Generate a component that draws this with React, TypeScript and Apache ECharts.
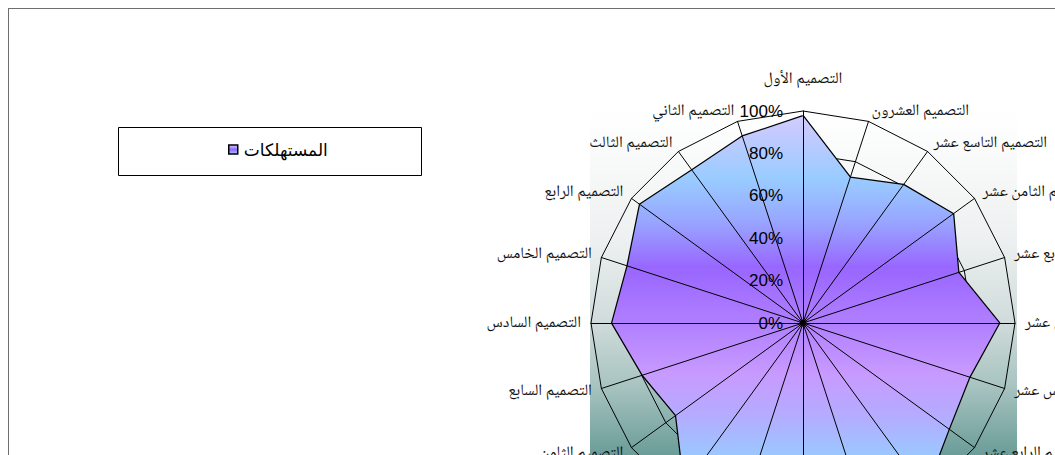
import React, { useEffect, useRef } from "react";
import * as echarts from "echarts";

const categories = [
  "التصميم الأول",
  "التصميم الثاني",
  "التصميم الثالث",
  "التصميم الرابع",
  "التصميم الخامس",
  "التصميم السادس",
  "التصميم السابع",
  "التصميم الثامن",
  "التصميم التاسع",
  "التصميم العاشر",
  "التصميم الحادي عشر",
  "التصميم الثاني عشر",
  "التصميم الثالث عشر",
  "التصميم الرابع عشر",
  "التصميم الخامس عشر",
  "التصميم السادس عشر",
  "التصميم السابع عشر",
  "التصميم الثامن عشر",
  "التصميم التاسع عشر",
  "التصميم العشرون",
];

const seriesName = "المستهلكات";
const seriesValues = [97.5, 92.5, 89, 95, 87, 90, 79.5, 74, 95, 88, 85, 90, 98, 85, 82.5, 92.5, 77, 87.5, 80.5, 72];
const axisMax = 100;
const tickSplits = 5;

const CX = 794;
const CY = 314;
const R = 212;

export default function App() {
  const ref = useRef<HTMLDivElement>(null);

  useEffect(() => {
    if (!ref.current) return;
    const chart = echarts.init(ref.current, null, { renderer: "svg" });

    const indicators0 = categories.map((name) => ({ name, min: 0, max: axisMax }));
    const indicators1 = categories.map((name, i) => ({
      name,
      min: 0,
      max: axisMax,
      axisLabel: { show: i === 0 },
    }));

    const fillGradient = new echarts.graphic.LinearGradient(
      0, CY - R, 0, CY + R,
      [
        { offset: 0.0, color: "#d4d0ff" },
        { offset: 0.04, color: "#c8caff" },
        { offset: 0.16, color: "#99ccff" },
        { offset: 0.26, color: "#98a6ff" },
        { offset: 0.37, color: "#9966ff" },
        { offset: 0.5, color: "#b07fff" },
        { offset: 0.62, color: "#c89aff" },
        { offset: 0.72, color: "#b4acff" },
        { offset: 0.82, color: "#99caff" },
        { offset: 1, color: "#99ccff" },
      ],
      true
    );

    const bgGradient = new echarts.graphic.LinearGradient(0, 0, 0, 1, [
      { offset: 0, color: "#ffffff" },
      { offset: 0.3, color: "#eef1f1" },
      { offset: 0.5, color: "#cfdbda" },
      { offset: 0.65, color: "#a7c3c0" },
      { offset: 0.8, color: "#6e9f9a" },
      { offset: 1, color: "#3a7b74" },
    ]);

    const labelFont = "'Noto Naskh Arabic', 'Times New Roman', 'Liberation Serif', serif";

    chart.setOption({
      animation: false,
      legend: {
        data: [seriesName],
        left: 219,
        top: 132,
        padding: 0,
        itemWidth: 9,
        itemHeight: 9,
        itemGap: 5,
        icon: "rect",
        itemStyle: {
          color: new echarts.graphic.LinearGradient(0, 0, 0, 1, [
            { offset: 0, color: "#ccccff" },
            { offset: 0.5, color: "#9966ff" },
            { offset: 1, color: "#99ccff" },
          ]),
          borderColor: "#000",
          borderWidth: 1.5,
        },
        textStyle: {
          fontSize: 17,
          color: "#000",
          fontFamily: "'Noto Sans', 'DejaVu Sans', sans-serif",
          padding: [0, 0, 0, 1],
        },
      },
      graphic: [
        {
          type: "rect",
          z: -10,
          silent: true,
          shape: { x: CX - R - 1, y: CY - R - 1, width: 2 * R + 3, height: 2 * R + 2 },
          style: { fill: bgGradient },
        },
        {
          type: "rect",
          z: -10,
          silent: true,
          shape: { x: 109.5, y: 118.5, width: 303, height: 48 },
          style: { fill: "#fff", stroke: "#000", lineWidth: 1 },
        },
        {
          type: "circle",
          z: 100,
          silent: true,
          shape: { cx: CX, cy: CY, r: 3.5 },
          style: { fill: "#000" },
        },
      ],
      radar: [
        {
          z: 0,
          center: [CX, CY],
          radius: R,
          startAngle: 90,
          splitNumber: tickSplits,
          shape: "polygon",
          indicator: indicators0,
          axisName: {
            show: true,
            color: "#111",
            fontSize: 16,
            fontFamily: labelFont,
            formatter: (name: string) =>
              name === categories[0] ? `{top|${name}}` : name,
            rich: {
              top: {
                fontSize: 16,
                fontFamily: labelFont,
                color: "#111",
                padding: [0, 0, 14, 0],
              },
            },
          },
          axisNameGap: 10,
          axisLine: { show: false },
          axisTick: { show: false },
          axisLabel: { show: false },
          splitLine: { show: true, lineStyle: { color: "#000", width: 1 } },
          splitArea: { show: false },
        },
        {
          z: 5,
          center: [CX, CY],
          radius: R,
          startAngle: 90,
          splitNumber: tickSplits,
          shape: "polygon",
          indicator: indicators1,
          axisName: { show: false },
          axisLine: { show: true, lineStyle: { color: "#000", width: 1 } },
          axisTick: { show: false },
          axisLabel: {
            show: false,
            formatter: "{value}%",
            margin: 20,
            color: "#000",
            fontSize: 17,
            fontFamily: "'Liberation Sans', Arial, sans-serif",
          },
          splitLine: { show: false },
          splitArea: { show: false },
        },
      ],
      series: [
        {
          type: "radar",
          name: seriesName,
          radarIndex: 0,
          z: 2,
          symbol: "none",
          lineStyle: { color: "#000", width: 2.5 },
          itemStyle: { color: "#9966ff", borderColor: "#000" },
          areaStyle: { color: fillGradient, opacity: 1 },
          data: [{ value: seriesValues, name: seriesName }],
        },
      ],
    });

    return () => chart.dispose();
  }, []);

  return (
    <div
      style={{
        position: "absolute",
        left: 8,
        top: 8,
        width: 1047,
        height: 447,
        overflow: "hidden",
      }}
    >
      <div
        ref={ref}
        style={{
          width: 1100,
          height: 620,
          border: "1px solid #6e6e6e",
          boxSizing: "border-box",
          background: "#fff",
        }}
      />
    </div>
  );
}
